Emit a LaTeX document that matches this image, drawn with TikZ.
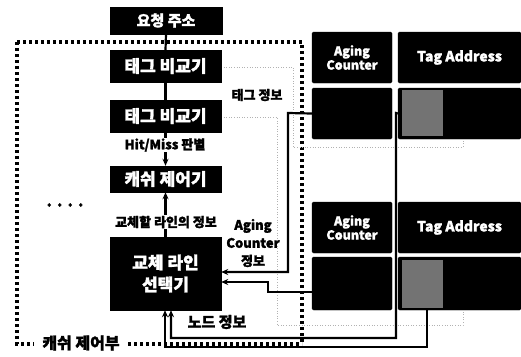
\documentclass[tikz,border=0pt]{standalone}
\usepackage{fontspec}
\setmainfont{Noto Sans CJK KR}[BoldFeatures={FakeBold=1.6}]
\usetikzlibrary{arrows.meta}
\begin{document}
\begin{tikzpicture}[x=1pt,y=-1pt,
  blk/.style={draw=black,fill=black,text=white,font=\bfseries\fontsize{17}{19}\selectfont,inner sep=0pt,align=center},
  cell/.style={draw=black,fill=black,rounded corners=1.5pt,text=white,font=\bfseries\fontsize{12.5}{14}\selectfont,inner sep=0pt,align=center},
  lbl/.style={font=\bfseries\fontsize{13}{14}\selectfont,inner sep=1pt,align=center},
  conn/.style={line width=2.2pt,draw=black},
  arr/.style={conn,-{Stealth[length=7pt,width=6pt]}},
  faint/.style={draw=black!30,line width=0.6pt,dotted},
  dashbox/.style={draw=black,line width=3.4pt,dash pattern=on 3pt off 3pt}]
\useasboundingbox (0,0) rectangle (521,356);
% dashed control region
\draw[dashbox] (17,42) -- (302,42) -- (302,344);
\draw[dashbox] (17,42) -- (17,344) -- (34,344);
\draw[dashbox] (128,344) -- (302,344);
% faint dotted lines
\draw[faint] (221,67) -- (293,67) -- (293,147) -- (463,147) -- (463,139);
\draw[faint] (221,117) -- (277,117) -- (277,325) -- (463,325) -- (463,310);
% left column boxes
\node[blk,minimum width=112pt,minimum height=27pt,font=\bfseries\fontsize{15}{17}\selectfont] (req) at (166,20.5) {요청 주소};
\node[blk,minimum width=111pt,minimum height=32pt] (tc1) at (165.5,66) {태그 비교기};
\node[blk,minimum width=111pt,minimum height=32pt] (tc2) at (165.5,116) {태그 비교기};
\node[blk,minimum width=111pt,minimum height=26pt] (cc) at (165.5,179) {캐쉬 제어기};
\node[blk,minimum width=111pt,minimum height=73pt,font=\bfseries\fontsize{17}{22}\selectfont] (sel) at (165.5,273.5) {교체 라인\\선택기};
% right tables, top group
\node[cell,minimum width=80pt,minimum height=51pt] (ach1) at (352,57.5) {Aging\\Counter};
\node[cell,minimum width=123pt,minimum height=51pt,font=\bfseries\fontsize{14}{16}\selectfont] (tah1) at (459.5,57.5) {Tag Address};
\node[cell,minimum width=80pt,minimum height=51pt] (acr1) at (352,113.5) {};
\node[cell,minimum width=123pt,minimum height=51pt] (tar1) at (459.5,113.5) {};
\node[fill=black!55,minimum width=41pt,minimum height=46pt,inner sep=0pt] (gp1) at (422.5,113) {};
% right tables, bottom group
\node[cell,minimum width=80pt,minimum height=51pt] (ach2) at (352,227.5) {Aging\\Counter};
\node[cell,minimum width=123pt,minimum height=51pt,font=\bfseries\fontsize{14}{16}\selectfont] (tah2) at (459.5,227.5) {Tag Address};
\node[cell,minimum width=80pt,minimum height=53pt] (acr2) at (352,283.5) {};
\node[cell,minimum width=123pt,minimum height=53pt] (tar2) at (459.5,283.5) {};
\node[fill=black!55,minimum width=41pt,minimum height=48pt,inner sep=0pt] (gp2) at (422.5,283.5) {};
% coordinates for connector bends
\coordinate (a1) at (288,113);
\coordinate (a2) at (288,272);
\coordinate (b1) at (268,292);
\coordinate (b2) at (268,282);
\coordinate (t1) at (396,113);
\coordinate (t2) at (396,338);
\coordinate (t3) at (171,338);
\coordinate (u1) at (427,347);
\coordinate (u2) at (165,347);
% main connectors
\draw[conn] (req.south) -- (tc1.north);
\draw[conn] (tc1.south) -- (tc2.north);
\draw[arr] (tc2.south) -- (cc.north);
\draw[arr] (sel.north) -- (cc.south);
\draw[arr] (acr1.west) -- (a1) -- (a2) -- (sel.east |- a2);
\draw[arr] (acr2.west |- b1) -- (b1) -- (b2) -- (sel.east |- b2);
\draw[arr] (tar1.west) -- (t1) -- (t2) -- (t3) -- (sel.south -| t3);
\draw[arr] (tar2.south -| u1) -- (u1) -- (u2) -- (sel.south -| u2);
% labels
\node[lbl,fill=white,inner sep=0.5pt] (hm) at (165,145) {Hit/Miss 판별};
\node[lbl,fill=white,inner sep=0.5pt] (rl) at (166,222) {교체할 라인의 정보};
\node[lbl] (tg) at (257,95) {태그 정보};
\node[lbl,font=\bfseries\fontsize{13}{18}\selectfont] (ag) at (253,243) {Aging\\Counter\\정보};
\node[lbl,font=\bfseries\fontsize{15}{16}\selectfont] (nd) at (217,322) {노드 정보};
\node[lbl,font=\bfseries\fontsize{16}{16}\selectfont] (dots) at (65,205) {. . . .};
\node[lbl,font=\bfseries\fontsize{16}{17}\selectfont] (cu) at (81,343) {캐쉬 제어부};
\end{tikzpicture}
\end{document}
